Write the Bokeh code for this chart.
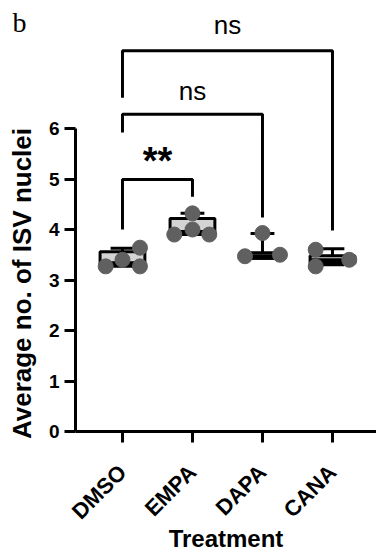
import math
from bokeh.plotting import figure
from bokeh.models import Range1d, FixedTicker
from bokeh.core.properties import value
from bokeh.embed import file_html
from bokeh.resources import INLINE

# ---- data ----
groups = ["DMSO", "EMPA", "DAPA", "CANA"]
dmso = [3.27, 3.40, 3.64, 3.27]
empa = [3.90, 4.00, 3.90, 4.32]
dapa = [3.47, 3.93, 3.50]
cana = [3.60, 3.27, 3.40]
box_q1 = [3.30, 3.90, 3.43, 3.33]
box_med = [3.33, 3.95, 3.47, 3.39]
box_q3 = [3.56, 4.22, 3.54, 3.48]
whisk_lo = [3.27, 3.90, 3.43, 3.30]
whisk_hi = [3.63, 4.32, 3.92, 3.62]
y_ticks = [0, 1, 2, 3, 4, 5, 6]
comparisons = [(0, 1), (0, 2), (0, 3)]
comp_labels = ["**", "ns", "ns"]
y_title = "Average no. of ISV nuclei"
x_title = "Treatment"
panel_letter = "b"

# ---- layout / style ----
jitter = [[-0.24, 0.0, 0.25, 0.25], [-0.26, 0.0, 0.24, 0.0], [-0.25, 0.0, 0.25], [-0.24, -0.24, 0.24]]
bracket_top = [4.99, 6.28, 7.54]
bracket_left = [4.00, 5.92, 6.61]
bracket_right = [4.65, 4.24, 3.98]
label_y = [5.36, 6.75, 8.04]
label_size = ["38px", "26px", "26px"]
label_style = ["bold", "normal", "normal"]
BOX_W = 0.64
CAP_W = 0.34
FONT = "Liberation Sans"

series = [dmso, empa, dapa, cana]
xpos = [i + 1 for i in range(len(groups))]

p = figure(width=376, height=554,
           x_range=Range1d(0.329, 4.629), y_range=Range1d(0, 8.535),
           output_backend="svg", toolbar_location=None,
           min_border_left=75, min_border_right=0, min_border_top=0,
           min_border_bottom=123)
p.outline_line_color = None
p.xgrid.visible = False
p.ygrid.visible = False
p.background_fill_color = "white"

# boxes
p.quad(left=[x - BOX_W / 2 for x in xpos], right=[x + BOX_W / 2 for x in xpos],
       bottom=box_q1, top=box_q3, fill_color="#d3d3d3", line_color="black", line_width=3)
# whiskers
p.segment(x0=xpos, x1=xpos, y0=box_q3, y1=whisk_hi, line_color="black", line_width=3)
p.segment(x0=xpos, x1=xpos, y0=whisk_lo, y1=box_q1, line_color="black", line_width=3)
p.segment(x0=[x - CAP_W / 2 for x in xpos], x1=[x + CAP_W / 2 for x in xpos],
          y0=whisk_hi, y1=whisk_hi, line_color="black", line_width=3)
p.segment(x0=[x - CAP_W / 2 for x in xpos], x1=[x + CAP_W / 2 for x in xpos],
          y0=whisk_lo, y1=whisk_lo, line_color="black", line_width=3)
# medians
p.segment(x0=[x - BOX_W / 2 for x in xpos], x1=[x + BOX_W / 2 for x in xpos],
          y0=box_med, y1=box_med, line_color="black", line_width=4)

# points
px, py = [], []
for i, vals in enumerate(series):
    for j, v in enumerate(vals):
        px.append(xpos[i] + jitter[i][j])
        py.append(v)
p.scatter(px, py, size=15, fill_color="#606060", line_color="#606060")

# significance brackets
xs, ys = [], []
for k, (a, b) in enumerate(comparisons):
    xa, xb = xpos[a], xpos[b]
    xs.append([xa, xa, xb, xb])
    ys.append([bracket_left[k], bracket_top[k], bracket_top[k], bracket_right[k]])
    p.text(x=[(xa + xb) / 2], y=[label_y[k]], text=[comp_labels[k]],
           text_font=value(FONT), text_font_size=label_size[k],
           text_font_style=label_style[k], text_align="center",
           text_baseline="alphabetic", text_color="black")
p.multi_line(xs, ys, line_color="black", line_width=3)

# panel letter and y title (overlay level so they are not clipped to the frame)
p.text(x=[-0.571], y=[8.10], text=[panel_letter], text_font=value("Liberation Serif"),
       text_font_size="28px", text_align="left", text_baseline="alphabetic",
       text_color="black", level="overlay")
p.text(x=[-0.442], y=[2.93], text=[y_title], angle=math.pi / 2,
       text_font=value(FONT), text_font_size="26px", text_font_style="bold",
       text_align="center", text_baseline="alphabetic", text_color="black",
       level="overlay")

# axes
for ax in (p.xaxis[0], p.yaxis[0]):
    ax.axis_line_width = 3
    ax.major_tick_line_width = 3
    ax.major_tick_out = 11
    ax.major_tick_in = 0
    ax.minor_tick_line_color = None
    ax.major_label_text_font = FONT
    ax.major_label_text_font_style = "bold"
    ax.major_label_text_color = "black"
    ax.axis_label_text_font = FONT
    ax.axis_label_text_font_style = "bold"
    ax.axis_label_text_color = "black"
    ax.axis_label_text_font_size = "24px"

p.yaxis.ticker = FixedTicker(ticks=y_ticks)
p.yaxis.bounds = (0, 6)
p.yaxis.major_label_text_font_size = "19px"
p.yaxis.major_label_standoff = 5

p.xaxis.ticker = FixedTicker(ticks=xpos)
p.xaxis.major_label_overrides = {x: g for x, g in zip(xpos, groups)}
p.xaxis.major_label_orientation = math.pi / 4
p.xaxis.major_label_text_font_size = "22px"
p.xaxis.major_label_standoff = 26
p.xaxis.axis_label = x_title
p.xaxis.axis_label_standoff = -11

open("out.html", "w").write(file_html(p, INLINE))
